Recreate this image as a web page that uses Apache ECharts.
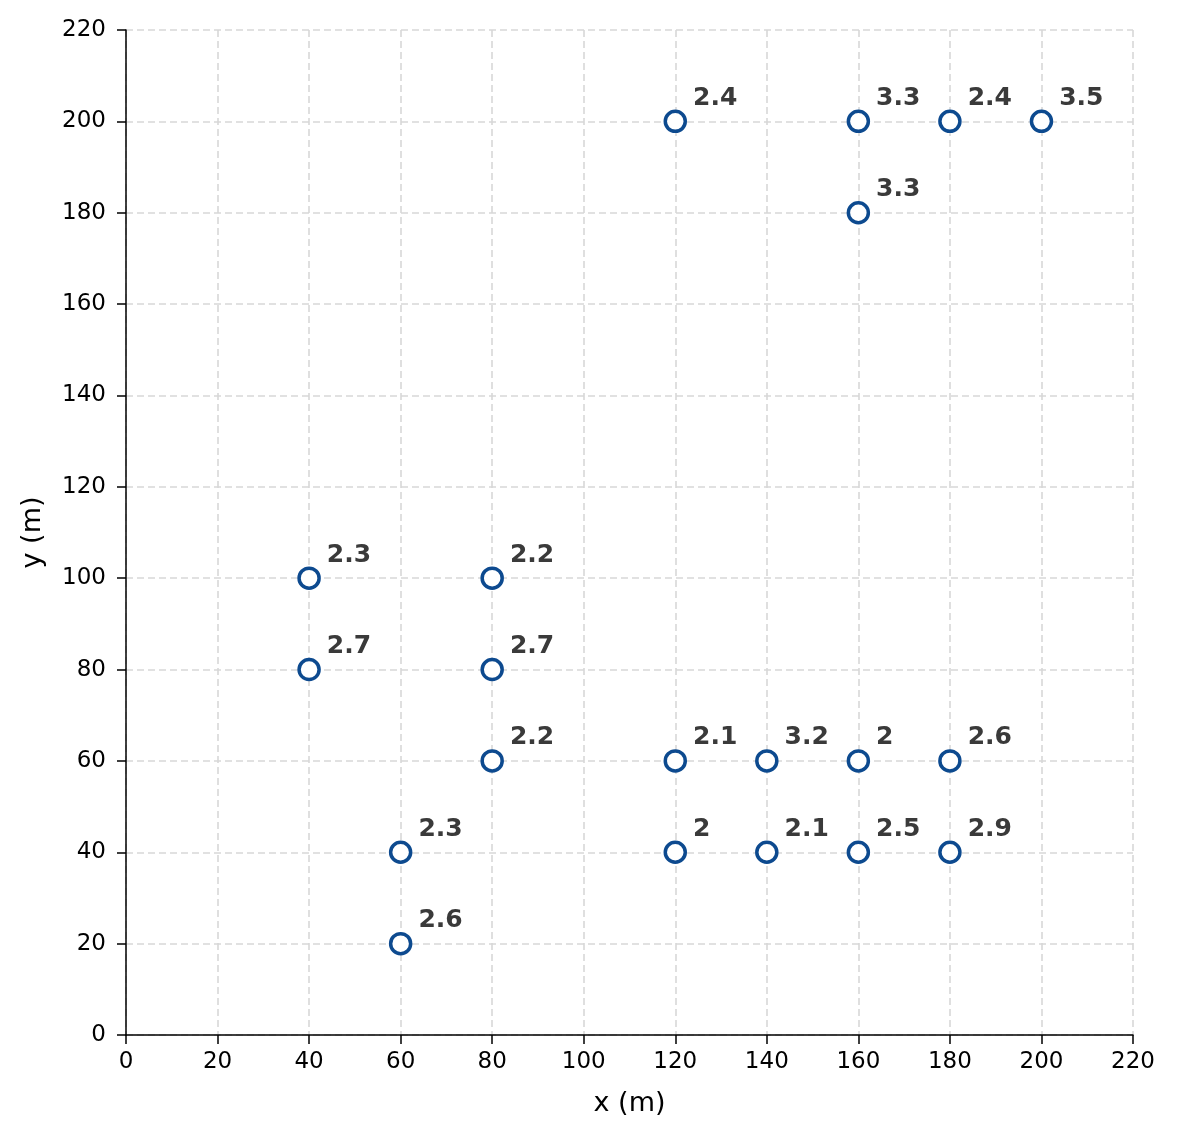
<!DOCTYPE html>
<html>
<head>
<meta charset="utf-8">
<script src="https://cdn.jsdelivr.net/npm/echarts@6/dist/echarts.min.js"></script>
<style>
  html, body { margin: 0; padding: 0; background: #fff; }
  #main { width: 1177px; height: 1138px; }
</style>
</head>
<body>
<div id="main"></div>
<script>
// point positions (m) and measured values
let xs = [120, 160, 180, 200, 160, 40, 80, 40, 80, 80, 120, 140, 160, 180, 60, 120, 140, 160, 180, 60];
let ys = [200, 200, 200, 200, 180, 100, 100, 80, 80, 60, 60, 60, 60, 60, 40, 40, 40, 40, 40, 20];
let vals = [2.4, 3.3, 2.4, 3.5, 3.3, 2.3, 2.2, 2.7, 2.7, 2.2, 2.1, 3.2, 2, 2.6, 2.3, 2, 2.1, 2.5, 2.9, 2.6];

let points = xs.map(function (x, i) { return [x, ys[i], vals[i]]; });

let chart = echarts.init(document.getElementById('main'));

let axisCommon = {
  type: 'value',
  min: 0,
  max: 220,
  interval: 20,
  nameLocation: 'middle',
  nameTextStyle: { fontFamily: 'DejaVu Sans', fontSize: 27, color: '#000' },
  axisLine: { show: true, lineStyle: { color: '#000', width: 1.5 } },
  axisTick: { show: true, length: 9, lineStyle: { color: '#000', width: 1.5 } },
  axisLabel: { fontFamily: 'DejaVu Sans', fontSize: 23, color: '#000' },
  splitLine: { show: true, lineStyle: { color: '#d8d8d8', type: [7, 4], width: 1.6 } }
};

let option = {
  backgroundColor: '#fff',
  animation: false,
  grid: { left: 126, right: 44, top: 30, bottom: 103, containLabel: false },
  xAxis: Object.assign({}, axisCommon, {
    name: 'x (m)', nameGap: 55,
    axisLabel: Object.assign({}, axisCommon.axisLabel, { margin: 16 })
  }),
  yAxis: Object.assign({}, axisCommon, {
    name: 'y (m)', nameGap: 80,
    axisLabel: Object.assign({}, axisCommon.axisLabel, { margin: 20 })
  }),
  series: [{
    type: 'scatter',
    data: points,
    symbol: 'circle',
    symbolSize: 20,
    itemStyle: { color: '#fff', borderColor: '#0d4a8f', borderWidth: 3.5, opacity: 1 },
    label: {
      show: true,
      position: 'right',
      distance: 6,
      offset: [0, -23],
      formatter: function (p) { return String(p.value[2]); },
      fontFamily: 'DejaVu Sans',
      fontWeight: 'bold',
      fontSize: 25,
      color: '#3a3a3a'
    }
  }]
};

chart.setOption(option);
</script>
</body>
</html>
